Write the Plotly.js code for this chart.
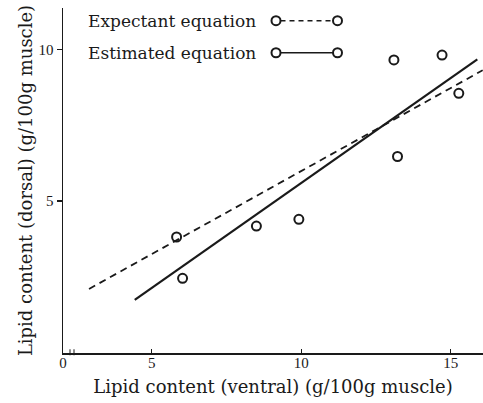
<!DOCTYPE html>
<html>
<head>
<meta charset="utf-8">
<script src="https://cdn.plot.ly/plotly-3.0.1.min.js"></script>
<style>html,body{margin:0;padding:0;background:#fff;}#chart{width:483px;height:403px;}</style>
</head>
<body>
<div id="chart"></div>
<script>
// Observed points: ventral vs dorsal lipid content
const ventral = [5.83, 6.03, 8.50, 9.92, 13.10, 13.22, 14.71, 15.27];
const dorsal  = [3.82, 2.46, 4.18, 4.40, 9.65, 6.47, 9.81, 8.55];

// Expectant equation (dashed) endpoints
const expectX = [2.90, 16.07];
const expectY = [2.11, 9.31];

// Estimated equation (solid) endpoints
const estimX = [4.43, 15.89];
const estimY = [1.75, 9.67];

const legendLabels = ["Expectant equation", "Estimated equation"];
const xTickVals = [2.03, 5, 10, 15];
const xTickText = ["0", "5", "10", "15"];
const yTickVals = [5, 10];
const yTickText = ["5", "10"];

const ink = "#1a1a1a";
const serif = "DejaVu Serif, serif";
const tickSerif = "Liberation Serif, serif";

const traces = [
  {x: expectX, y: expectY, mode: "lines", type: "scatter",
   line: {color: ink, width: 1.8, dash: "7px,5px"}, hoverinfo: "skip"},
  {x: estimX, y: estimY, mode: "lines", type: "scatter",
   line: {color: ink, width: 2.2}, hoverinfo: "skip"},
  {x: ventral, y: dorsal, mode: "markers", type: "scatter",
   marker: {symbol: "circle-open", size: 9, color: ink, line: {width: 2, color: ink}}}
];

// legend geometry in paper coordinates
const L = 63, W = 420, B = 352.7, H = 344.7;
const px = v => (v - L) / W;
const py = v => (B - v) / H;
const legRows = [py(20.7), py(52.7)];
const legC1 = px(276), legC2 = px(337.5);
const shapes = [];
legRows.forEach((yy, i) => {
  shapes.push({type: "line", xref: "paper", yref: "paper",
    x0: px(280.5), x1: px(333), y0: yy, y1: yy,
    line: {color: ink, width: 1.5, dash: i === 0 ? "5px,4px" : "solid"}});
  [legC1, legC2].forEach(cx => {
    shapes.push({type: "circle", xref: "paper", yref: "paper",
      xsizemode: "pixel", ysizemode: "pixel", xanchor: cx, yanchor: yy,
      x0: -4.5, x1: 4.5, y0: -4.5, y1: 4.5,
      line: {color: ink, width: 2}, fillcolor: "rgba(0,0,0,0)"});
  });
});
// small axis-break marks near the origin
shapes.push({type: "line", xref: "paper", yref: "paper", x0: px(70), x1: px(70), y0: py(355), y1: py(349), line: {color: ink, width: 1}});
shapes.push({type: "line", xref: "paper", yref: "paper", x0: px(74), x1: px(74), y0: py(355), y1: py(349), line: {color: ink, width: 1}});

const annotations = legendLabels.map((t, i) => ({
  text: t, xref: "paper", yref: "paper", x: px(258), y: legRows[i],
  xanchor: "right", yanchor: "middle", showarrow: false,
  font: {family: serif, size: 17, color: ink}
}));

const layout = {
  width: 483, height: 403,
  margin: {l: 63, r: 0, t: 8, b: 50, pad: 0},
  paper_bgcolor: "#fff", plot_bgcolor: "#fff",
  showlegend: false,
  font: {family: serif, color: ink},
  xaxis: {
    range: [2.03, 16.08], showgrid: false, zeroline: false,
    showline: true, linecolor: ink, linewidth: 1.5,
    tickmode: "array", tickvals: xTickVals, ticktext: xTickText,
    ticks: "inside", ticklen: 4, tickcolor: ink, tickwidth: 1,
    ticklabelstandoff: -5,
    tickfont: {family: tickSerif, size: 15, color: ink},
    title: {text: "Lipid content (ventral) (g/100g muscle)", font: {family: serif, size: 18, color: ink}, standoff: 11}
  },
  yaxis: {
    range: [0, 11.36], showgrid: false, zeroline: false,
    showline: true, linecolor: ink, linewidth: 1.5,
    tickmode: "array", tickvals: yTickVals, ticktext: yTickText,
    ticks: "outside", ticklen: 5, tickcolor: ink, tickwidth: 1.5,
    tickfont: {family: tickSerif, size: 15, color: ink},
    title: {text: "Lipid content (dorsal) (g/100g muscle)", font: {family: serif, size: 18, color: ink}, standoff: 1}
  },
  shapes: shapes,
  annotations: annotations
};

Plotly.newPlot("chart", traces, layout, {staticPlot: true, displayModeBar: false});
</script>
</body>
</html>
